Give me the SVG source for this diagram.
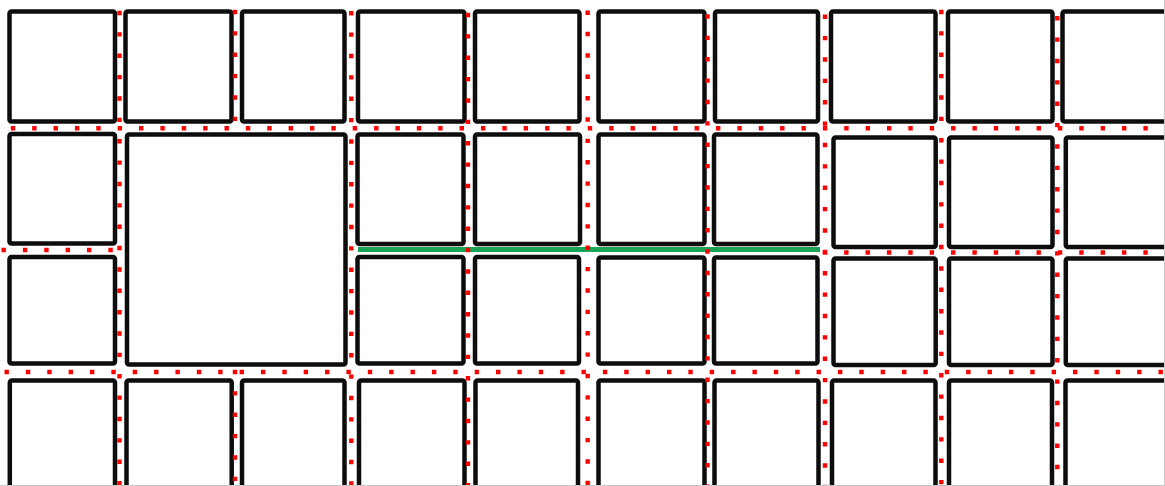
<svg xmlns="http://www.w3.org/2000/svg" width="1165" height="486" viewBox="0 0 1165 486">
<style>
.b{fill:#fff;stroke:#0d0d0d;stroke-width:4.5}
.d{fill:none;stroke:#f00;stroke-width:4.4;stroke-dasharray:4.4 16.97}
.g{fill:none;stroke:#1ca456;stroke-width:5}
.e{fill:none;stroke:#c8c8c8;stroke-width:1}
</style>
<rect width="1165" height="486" fill="#fff"/>
<g id="row1">
<g id="r1c1"><rect class="b" x="9.5" y="11.5" width="105.5" height="110" rx="2"/></g>
<g id="r1c2"><rect class="b" x="125.5" y="11.5" width="106" height="110" rx="2"/></g>
<g id="r1c3"><rect class="b" x="242" y="11.5" width="102.5" height="110" rx="2"/></g>
<g id="r1c4"><rect class="b" x="358" y="11.5" width="106.5" height="110" rx="2"/></g>
<g id="r1c5"><rect class="b" x="475" y="11.5" width="104.5" height="110" rx="2"/></g>
<g id="r1c6"><rect class="b" x="598.5" y="11.5" width="106" height="110" rx="2"/></g>
<g id="r1c7"><rect class="b" x="715" y="11.5" width="103" height="110" rx="2"/></g>
<g id="r1c8"><rect class="b" x="831" y="11.5" width="104.5" height="110" rx="2"/></g>
<g id="r1c9"><rect class="b" x="948" y="11.5" width="104.5" height="110" rx="2"/></g>
<g id="r1c10"><rect class="b" x="1062.5" y="11.5" width="110" height="110" rx="2"/></g>
</g>
<g id="row2">
<g id="r2c1"><rect class="b" x="9.5" y="134" width="105.5" height="109.5" rx="2"/></g>
<g id="big"><rect class="b" x="127" y="134.5" width="218.5" height="230" rx="2"/></g>
<g id="r2c4"><rect class="b" x="357.5" y="134.5" width="106" height="109.5" rx="2"/></g>
<g id="r2c5"><rect class="b" x="475" y="134.5" width="105" height="109.5" rx="2"/></g>
<g id="r2c6"><rect class="b" x="598.5" y="134.5" width="106" height="109.5" rx="2"/></g>
<g id="r2c7"><rect class="b" x="714" y="134.5" width="103.5" height="109.5" rx="2"/></g>
<g id="r2c8"><rect class="b" x="833.5" y="137.5" width="102.2" height="109.5" rx="2"/></g>
<g id="r2c9"><rect class="b" x="949" y="137.5" width="103.5" height="109.5" rx="2"/></g>
<g id="r2c10"><rect class="b" x="1065.8" y="137.5" width="110" height="109.5" rx="2"/></g>
</g>
<g id="row3">
<g id="r3c1"><rect class="b" x="9.5" y="257" width="105.5" height="106.5" rx="2"/></g>
<g id="r3c4"><rect class="b" x="357.5" y="257" width="106" height="106.5" rx="2"/></g>
<g id="r3c5"><rect class="b" x="475" y="257" width="104" height="106.5" rx="2"/></g>
<g id="r3c6"><rect class="b" x="598.5" y="257.5" width="106" height="106" rx="2"/></g>
<g id="r3c7"><rect class="b" x="714" y="257.5" width="103.5" height="106" rx="2"/></g>
<g id="r3c8"><rect class="b" x="833.5" y="258.5" width="102.2" height="106.5" rx="2"/></g>
<g id="r3c9"><rect class="b" x="949" y="258.5" width="103.5" height="106.5" rx="2"/></g>
<g id="r3c10"><rect class="b" x="1065.8" y="258.5" width="110" height="106.5" rx="2"/></g>
</g>
<g id="row4">
<g id="r4c1"><rect class="b" x="9.8" y="380.5" width="105.2" height="130" rx="2"/></g>
<g id="r4c2"><rect class="b" x="126.5" y="380.5" width="105.2" height="130" rx="2"/></g>
<g id="r4c3"><rect class="b" x="242" y="380.5" width="102.5" height="130" rx="2"/></g>
<g id="r4c4"><rect class="b" x="359" y="380.5" width="105.5" height="130" rx="2"/></g>
<g id="r4c5"><rect class="b" x="475.5" y="380.5" width="102.5" height="130" rx="2"/></g>
<g id="r4c6"><rect class="b" x="598.5" y="380.5" width="106" height="130" rx="2"/></g>
<g id="r4c7"><rect class="b" x="714.5" y="380.5" width="104" height="130" rx="2"/></g>
<g id="r4c8"><rect class="b" x="832" y="380.5" width="103.5" height="130" rx="2"/></g>
<g id="r4c9"><rect class="b" x="949" y="380.5" width="103" height="130" rx="2"/></g>
<g id="r4c10"><rect class="b" x="1065.5" y="380.5" width="110" height="130" rx="2"/></g>
</g>
<g id="connectors">
<line class="g" x1="358" y1="249.5" x2="820" y2="249.5"/>
<line class="d" x1="10.8" y1="128.3" x2="1165" y2="128.3"/>
<line class="d" x1="1.5" y1="250" x2="122" y2="250"/>
<line class="d" x1="822.8" y1="252.5" x2="1165" y2="252.5"/>
<line class="d" x1="4.5" y1="372" x2="1165" y2="372"/>
<line class="d" x1="119.5" y1="10.8" x2="119.5" y2="486"/>
<line class="d" x1="235" y1="9.8" x2="235" y2="130"/>
<line class="d" x1="235" y1="369.8" x2="235" y2="486"/>
<line class="d" x1="351.3" y1="11.1" x2="351.3" y2="486"/>
<line class="d" x1="468" y1="12.8" x2="468" y2="486"/>
<line class="d" x1="587.7" y1="10.5" x2="587.7" y2="486"/>
<line class="d" x1="707.5" y1="14.3" x2="707.5" y2="486"/>
<line class="d" x1="825" y1="14.6" x2="825" y2="486"/>
<line class="d" x1="941.3" y1="9.8" x2="941.3" y2="486"/>
<line class="d" x1="1057.3" y1="16.1" x2="1057.3" y2="486"/>
<line class="e" x1="0" y1="485.5" x2="1165" y2="485.5"/>
<line class="e" x1="1164.5" y1="0" x2="1164.5" y2="486"/>
</g>
</svg>
